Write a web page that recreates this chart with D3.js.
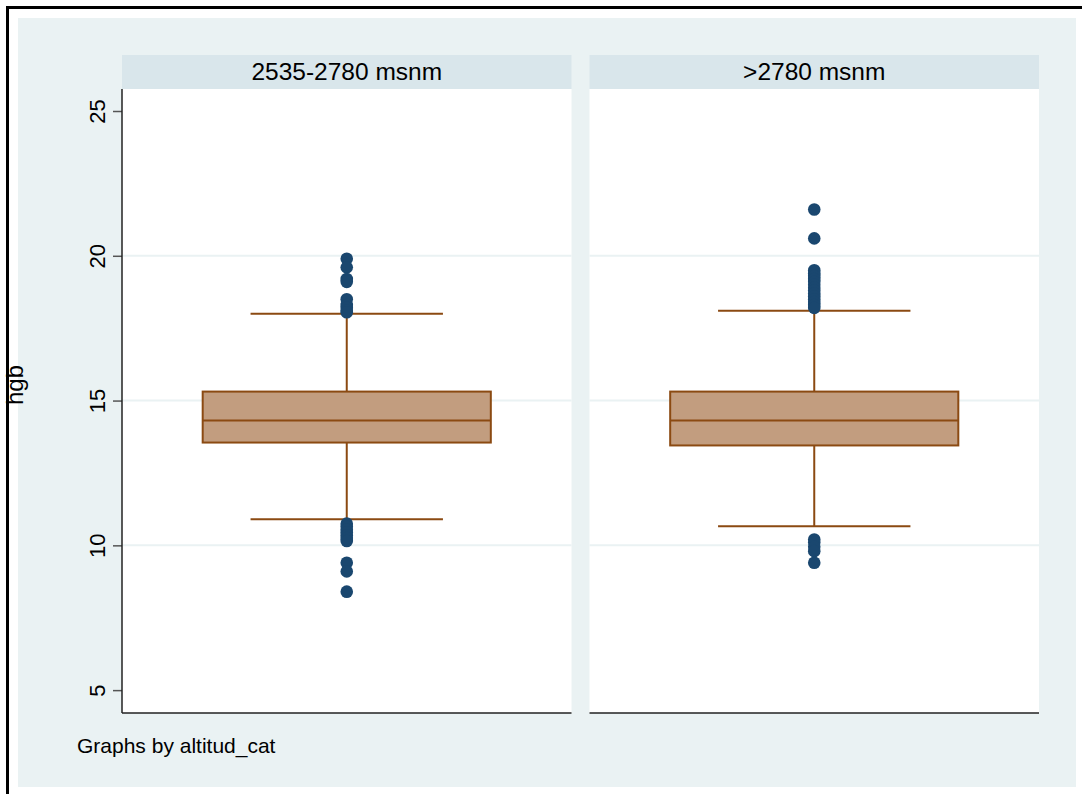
<!DOCTYPE html>
<html>
<head>
<meta charset="utf-8">
<script src="https://cdn.jsdelivr.net/npm/d3@7"></script>
<style>
  body { margin: 0; background: #fff; }
  text { font-family: "Liberation Sans", Arial, sans-serif; fill: #000; }
</style>
</head>
<body>
<div class="chart"></div>
<script>
var svgWidth = 1082;
var svgHeight = 794;

// altitude groups and the box statistics for hgb
var categories = ["2535-2780 msnm", ">2780 msnm"];
var q1 = [13.55, 13.45];
var median = [14.31, 14.31];
var q3 = [15.31, 15.31];
var whiskerLow = [10.9, 10.66];
var whiskerHigh = [18.0, 18.1];
var outliers1 = [19.9, 19.6, 19.2, 19.1, 18.5, 18.3, 18.2, 18.1, 18.05,
                 10.75, 10.65, 10.55, 10.45, 10.35, 10.25, 10.15, 9.4, 9.1, 8.4];
var outliers2 = [21.6, 20.6, 19.5, 19.4, 19.3, 19.2, 19.1, 19.0, 18.9, 18.8, 18.7,
                 18.6, 18.5, 18.4, 18.3, 18.2, 10.2, 10.1, 9.95, 9.8, 9.4];
var yTicks = [5, 10, 15, 20, 25];
var gridTicks = [10, 15, 20];

var plotTop = 89, plotBottom = 713, plotLeft = 122, plotRight = 1039;

var svg = d3.select(".chart")
  .append("svg")
    .attr("width", svgWidth)
    .attr("height", svgHeight);

// graph region background
svg.append("rect")
  .attr("x", 18).attr("y", 18)
  .attr("width", 1058).attr("height", 769)
  .attr("fill", "#eaf2f3");

var xPanel = d3.scaleBand()
  .domain(categories)
  .range([plotLeft, plotRight])
  .paddingInner(0.0385)
  .paddingOuter(0);

var yScale = d3.scaleLinear()
  .domain([4.21, 25.76])
  .range([plotBottom, plotTop]);

var outlierSets = [outliers1, outliers2];

categories.forEach(function(cat, i) {
  var x0 = xPanel(cat);
  var bw = xPanel.bandwidth();
  var cx = x0 + bw / 2;
  var boxW = bw * 0.641;
  var capW = bw * 0.428;

  var panel = svg.append("g");

  // header strip
  panel.append("rect")
    .attr("x", x0).attr("y", 55)
    .attr("width", bw).attr("height", plotTop - 55)
    .attr("fill", "#d9e6eb");
  panel.append("text")
    .attr("x", cx).attr("y", 71)
    .attr("dy", "0.35em")
    .attr("text-anchor", "middle")
    .attr("font-size", 24.5)
    .text(cat);

  // plot area
  panel.append("rect")
    .attr("x", x0).attr("y", plotTop)
    .attr("width", bw).attr("height", plotBottom - plotTop)
    .attr("fill", "#fff");

  panel.selectAll(".grid")
    .data(gridTicks)
    .enter().append("line")
      .attr("class", "grid")
      .attr("x1", x0).attr("x2", x0 + bw)
      .attr("y1", function(d) { return yScale(d); })
      .attr("y2", function(d) { return yScale(d); })
      .attr("stroke", "#eaf2f3")
      .attr("stroke-width", 2);

  var brown = "#8b4a12";

  // whisker stem and caps
  panel.append("line")
    .attr("x1", cx).attr("x2", cx)
    .attr("y1", yScale(whiskerHigh[i])).attr("y2", yScale(q3[i]))
    .attr("stroke", brown).attr("stroke-width", 2);
  panel.append("line")
    .attr("x1", cx).attr("x2", cx)
    .attr("y1", yScale(q1[i])).attr("y2", yScale(whiskerLow[i]))
    .attr("stroke", brown).attr("stroke-width", 2);
  [whiskerHigh[i], whiskerLow[i]].forEach(function(v) {
    panel.append("line")
      .attr("x1", cx - capW / 2).attr("x2", cx + capW / 2)
      .attr("y1", yScale(v)).attr("y2", yScale(v))
      .attr("stroke", brown).attr("stroke-width", 2);
  });

  // box
  panel.append("rect")
    .attr("x", cx - boxW / 2).attr("y", yScale(q3[i]))
    .attr("width", boxW).attr("height", yScale(q1[i]) - yScale(q3[i]))
    .attr("fill", "#c29d7f")
    .attr("stroke", brown).attr("stroke-width", 2);
  panel.append("line")
    .attr("x1", cx - boxW / 2).attr("x2", cx + boxW / 2)
    .attr("y1", yScale(median[i])).attr("y2", yScale(median[i]))
    .attr("stroke", brown).attr("stroke-width", 2);

  // outside values
  panel.selectAll("circle")
    .data(outlierSets[i])
    .enter().append("circle")
      .attr("cx", cx)
      .attr("cy", function(d) { return yScale(d); })
      .attr("r", 6.3)
      .attr("fill", "#1a476f");

  // bottom axis line
  panel.append("line")
    .attr("x1", x0).attr("x2", x0 + bw)
    .attr("y1", plotBottom).attr("y2", plotBottom)
    .attr("stroke", "#222").attr("stroke-width", 1.5);
});

// y axis on the first panel only
var leftAxis = d3.axisLeft(yScale)
  .tickValues(yTicks)
  .tickSize(9)
  .tickFormat(d3.format("d"));

var yAxis = svg.append("g")
  .attr("transform", "translate(" + plotLeft + ",0)")
  .call(leftAxis);
yAxis.select(".domain").remove();
yAxis.selectAll(".tick line").attr("stroke", "#555").attr("stroke-width", 1.5);
yAxis.selectAll(".tick text")
  .attr("x", null)
  .attr("dy", "0.35em")
  .attr("transform", "translate(-25,0) rotate(-90)")
  .attr("text-anchor", "middle")
  .attr("font-size", 22)
  .attr("font-family", "Liberation Sans, Arial, sans-serif")
  .attr("fill", "#000");
svg.append("line")
  .attr("x1", plotLeft).attr("x2", plotLeft)
  .attr("y1", plotTop).attr("y2", plotBottom)
  .attr("stroke", "#222").attr("stroke-width", 1.5);

svg.append("text")
  .attr("transform", "translate(15,385) rotate(-90)")
  .attr("dy", "0.35em")
  .attr("text-anchor", "middle")
  .attr("font-size", 24)
  .text("hgb");

svg.append("text")
  .attr("x", 77).attr("y", 746)
  .attr("dy", "0.35em")
  .attr("font-size", 21)
  .text("Graphs by altitud_cat");

// black frame drawn last so it covers the edge of the y title
svg.append("line")
  .attr("x1", 6).attr("x2", svgWidth).attr("y1", 7.5).attr("y2", 7.5)
  .attr("stroke", "#000").attr("stroke-width", 3);
svg.append("line")
  .attr("x1", 7.5).attr("x2", 7.5).attr("y1", 6).attr("y2", svgHeight)
  .attr("stroke", "#000").attr("stroke-width", 3);
</script>
</body>
</html>
